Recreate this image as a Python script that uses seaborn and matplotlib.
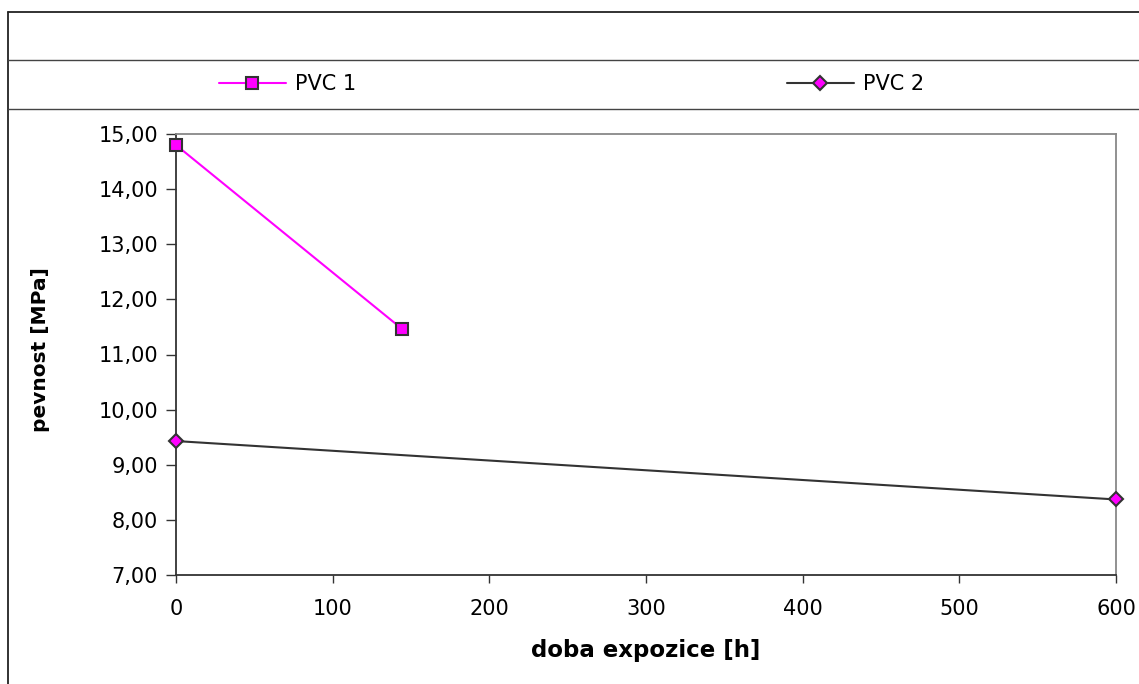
import matplotlib
matplotlib.use("Agg")
import matplotlib.pyplot as plt
from matplotlib.lines import Line2D
from matplotlib.ticker import FuncFormatter, MultipleLocator
import seaborn as sns
import pandas as pd

sns.set_theme(style="white")
plt.rcParams['font.family'] = ['DejaVu Sans']
plt.rcParams['text.color'] = '#000000'
plt.rcParams['axes.labelcolor'] = '#000000'

series_names = ["PVC 1", "PVC 2"]
pvc1_x = [0, 144]
pvc1_y = [14.80, 11.47]
pvc2_x = [0, 600]
pvc2_y = [9.43, 8.37]
x_ticks = [0, 100, 200, 300, 400, 500, 600]
x_label = "doba expozice [h]"
y_label = "pevnost [MPa]"

W, H = 1139, 684
fig = plt.figure(figsize=(W / 100, H / 100), dpi=100)
ax = fig.add_axes([176 / W, 1 - 575 / H, (1116 - 176) / W, (575 - 134) / H])

df1 = pd.DataFrame({"x": pvc1_x, "y": pvc1_y})
df2 = pd.DataFrame({"x": pvc2_x, "y": pvc2_y})

sns.lineplot(data=df1, x="x", y="y", ax=ax, color="#FF00FF", lw=1.5,
             marker="s", markersize=8, markerfacecolor="#FF00FF",
             markeredgecolor="#333333", markeredgewidth=1.5, zorder=3, clip_on=False)
sns.lineplot(data=df2, x="x", y="y", ax=ax, color="#333333", lw=1.5,
             marker="D", markersize=7.5, markerfacecolor="#FF00FF",
             markeredgecolor="#333333", markeredgewidth=1.5, zorder=3, clip_on=False)

ax.set_xlim(0, 600)
ax.set_ylim(7, 15)
ax.set_xticks(x_ticks)
ax.yaxis.set_major_locator(MultipleLocator(1))
ax.yaxis.set_major_formatter(FuncFormatter(lambda v, p: f"{v:.2f}".replace(".", ",")))
ax.tick_params(axis="both", which="major", labelsize=15, labelcolor="#000000",
               width=1, direction="out")
ax.tick_params(axis="x", pad=11, color="#333333", length=6)
ax.tick_params(axis="y", pad=6, color="#333333", length=7)
ax.xaxis.set_ticks_position("bottom")
ax.yaxis.set_ticks_position("left")

for s in ["left", "bottom"]:
    ax.spines[s].set_color("#333333")
    ax.spines[s].set_linewidth(1.3)
for s in ["top", "right"]:
    ax.spines[s].set_color("#888888")
    ax.spines[s].set_linewidth(1.3)
    ax.spines[s].set_visible(True)

ax.set_xlabel(x_label, fontsize=16.5, fontweight="bold", va="center", color="#000000")
ax.xaxis.set_label_coords(0.5, (575 - 650) / 441)
ax.set_ylabel(y_label, fontsize=14.5, fontweight="bold", va="center", color="#000000")
ax.yaxis.set_label_coords((40 - 176) / 940, (575 - 350) / 441)
ax.grid(False)

# frame lines of the chart area
fig.add_artist(Line2D([8 / W, 1], [1 - 12 / H, 1 - 12 / H], transform=fig.transFigure, color="#222222", lw=1.3))
fig.add_artist(Line2D([8 / W, 8 / W], [0, 1 - 12 / H], transform=fig.transFigure, color="#222222", lw=1.3))
fig.add_artist(Line2D([8 / W, 1], [1 - 60 / H, 1 - 60 / H], transform=fig.transFigure, color="#444444", lw=1.0))
fig.add_artist(Line2D([8 / W, 1], [1 - 109 / H, 1 - 109 / H], transform=fig.transFigure, color="#444444", lw=1.0))

h1 = Line2D([], [], color="#FF00FF", lw=1.5, marker="s", markersize=8,
            markerfacecolor="#FF00FF", markeredgecolor="#333333", markeredgewidth=1.5)
h2 = Line2D([], [], color="#333333", lw=1.5, marker="D", markersize=7.5,
            markerfacecolor="#FF00FF", markeredgecolor="#333333", markeredgewidth=1.5)
for h, name, x0 in [(h1, series_names[0], 219), (h2, series_names[1], 787)]:
    fig.legend(handles=[h], labels=[name], loc="center left",
               bbox_to_anchor=(x0 / W, 1 - 84 / H), frameon=False,
               fontsize=15, handlelength=3.2, handletextpad=0.43,
               borderpad=0, borderaxespad=0, labelcolor="#000000")

fig.savefig("out.png", dpi=100)
